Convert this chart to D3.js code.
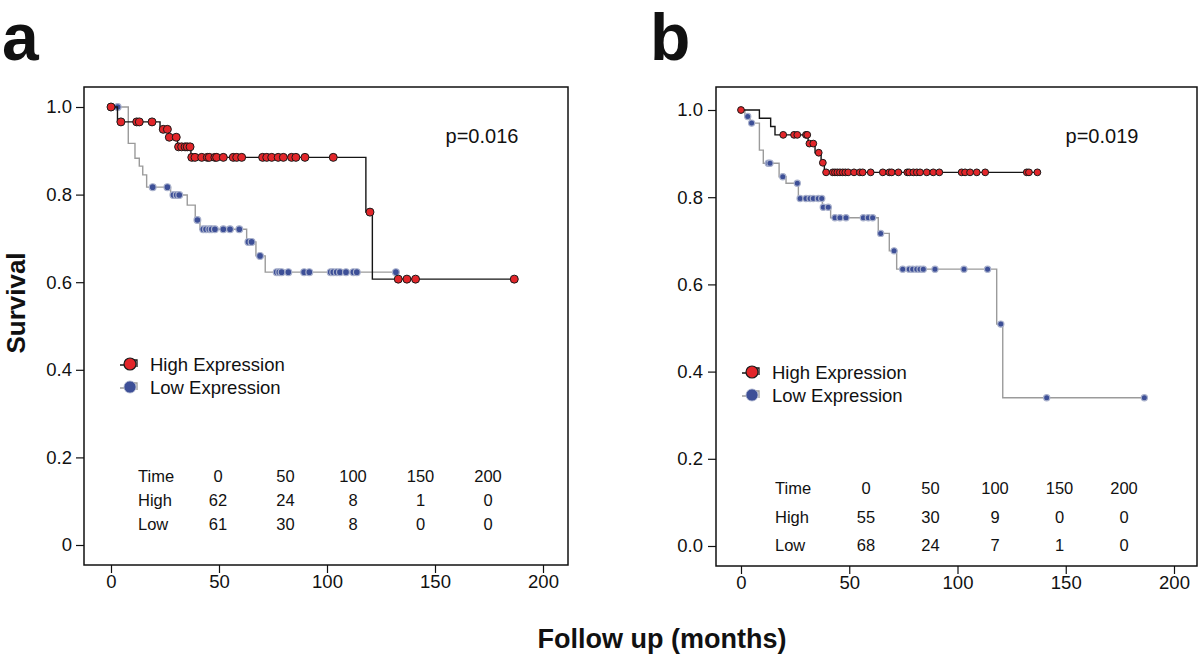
<!DOCTYPE html>
<html><head><meta charset="utf-8">
<script src="https://cdn.jsdelivr.net/npm/d3@7"></script>
<style>body{margin:0;background:#fff}svg{display:block}text{font-family:"Liberation Sans",Arial,Helvetica,sans-serif;fill:#111}</style>
</head><body><svg id="c" width="1200" height="656"></svg>
<script>
// ---------- data ----------
const xTicks = [0, 50, 100, 150, 200];
const yTicksA = [0, 0.2, 0.4, 0.6, 0.8, 1.0];
const yTickLabelsA = ["0", "0.2", "0.4", "0.6", "0.8", "1.0"];
const yTickLabelsB = ["0.0", "0.2", "0.4", "0.6", "0.8", "1.0"];
const seriesNames = ["High Expression", "Low Expression"];
const tableTimes = ["0", "50", "100", "150", "200"];

// Panel a
const highStepTimesA = [3, 22.7, 26.5, 30.8, 37, 118, 121];
const highStepSurvA  = [0.966, 0.949, 0.931, 0.909, 0.885, 0.760, 0.607];
const highCensorA = [0, 4.6, 11.9, 13.1, 19, 24.2, 26.1, 27, 30.2, 31.3, 32.7, 34.3, 35.3, 36.6,
  37.4, 38.9, 42, 44.6, 45.5, 48.1, 48.9, 52, 56.6, 58.2, 60.5, 70.2, 72.1, 74.4, 77.4, 79.8,
  83.6, 85.6, 89.8, 102.9, 119.9, 133, 137, 141, 186.7];
const lowStepTimesA = [8, 11.1, 13.1, 14.7, 16.5, 27.6, 35.3, 39, 41.2, 62.8, 67.1, 71.4];
const lowStepSurvA  = [0.917, 0.883, 0.865, 0.845, 0.817, 0.799, 0.776, 0.742, 0.721, 0.692, 0.660, 0.623];
const lowCensorA = [3.1, 19.3, 26.1, 28.9, 30.4, 31.6, 40, 42.7, 44, 45.5, 46.6, 48.1, 52, 55.1, 59.4,
  63.6, 65.1, 69, 76.7, 77.9, 79, 82.1, 89.4, 91.8, 101.7, 102.9, 104.5, 106, 108.8, 112.2, 113.8, 131.9];
const highAtRiskA = [62, 24, 8, 1, 0];
const lowAtRiskA  = [61, 30, 8, 0, 0];
const pValueA = "p=0.016";

// Panel b
const highStepTimesB = [8.5, 13.7, 15.7, 31, 34.2, 37, 38.5];
const highStepSurvB  = [0.981, 0.962, 0.943, 0.923, 0.902, 0.879, 0.857];
const highCensorB = [0, 19.5, 24.5, 26, 30, 30.6, 31.6, 33.4, 35.9, 37.8, 39.3, 42.4, 43.4, 44.5, 45.7,
  47, 48.2, 49.5, 52.2, 54.9, 56.2, 59.9, 65.5, 68.5, 69.6, 72.7, 76.8, 77.7, 79.6, 81.2, 82.7,
  85.8, 88.8, 91.6, 101.9, 103.5, 105.8, 108.9, 112.8, 132, 133, 136.9];
const lowStepTimesB = [1.8, 4.2, 8.5, 10.3, 17.6, 20.8, 26.5, 37.6, 41.4, 63.4, 68.5, 71.9, 118.1, 120.9];
const lowStepSurvB  = [0.985, 0.970, 0.908, 0.878, 0.847, 0.832, 0.797, 0.777, 0.753, 0.717, 0.677, 0.635, 0.509, 0.340];
const lowCensorB = [3.1, 4.9, 12.6, 13.4, 19.3, 26, 27.3, 30, 31.9, 33.4, 35.7, 37.3, 38, 40.3, 43.4, 45.7,
  48.5, 56.5, 58.8, 60.8, 64.5, 70.7, 74.7, 77.7, 79.3, 81.2, 82.7, 84.2, 89.6, 103, 113.9, 120, 141.2, 186.3];
const highAtRiskB = [55, 30, 9, 0, 0];
const lowAtRiskB  = [68, 24, 7, 1, 0];
const pValueB = "p=0.019";

// ---------- drawing ----------
const svg = d3.select("#c");
const RED = "#e2262a", BLUE = "#3d4f97";

function survFn(times, surv) {
  return t => { let s = 1; for (let i = 0; i < times.length; i++) if (times[i] <= t) s = surv[i]; return s; };
}

function panel(cfg) {
  const x = d3.scaleLinear().domain([0, 200]).range(cfg.xr);
  const y = d3.scaleLinear().domain([0, 1]).range(cfg.yr);
  const g = svg.append("g");

  // axes
  const ya = g.append("g").attr("transform", `translate(${cfg.box[0]},0)`)
    .call(d3.axisLeft(y).tickValues(yTicksA).tickFormat((d, i) => cfg.yLabels[i]).tickSize(8).tickPadding(cfg.ypad));
  ya.select(".domain").remove();
  ya.selectAll("line").attr("stroke", "#111").attr("stroke-width", 1.2);
  ya.selectAll("text").attr("font-size", 18.5).attr("font-family", "Liberation Sans, Arial, sans-serif").attr("fill", "#111");
  const xa = g.append("g").attr("transform", `translate(0,${cfg.box[3]})`)
    .call(d3.axisBottom(x).tickValues(xTicks).tickSize(8).tickPadding(2));
  xa.select(".domain").remove();
  xa.selectAll("line").attr("stroke", "#111").attr("stroke-width", 1.2);
  xa.selectAll("text").attr("font-size", 18.5).attr("font-family", "Liberation Sans, Arial, sans-serif").attr("fill", "#111");

  // box
  g.append("rect").attr("x", cfg.box[0]).attr("y", cfg.box[1])
    .attr("width", cfg.box[2] - cfg.box[0]).attr("height", cfg.box[3] - cfg.box[1])
    .attr("fill", "none").attr("stroke", "#111").attr("stroke-width", 1.5);

  const line = d3.line().x(d => x(d[0])).y(d => y(d[1])).curve(d3.curveStepAfter);
  function curve(times, surv, censor, color, lineColor, stroke, r, sw) {
    const f = survFn(times, surv);
    const end = d3.max(censor.concat(times));
    const pts = [[0, 1]].concat(times.map((t, i) => [t, surv[i]])).concat([[end, f(end)]]);
    g.append("path").attr("d", line(pts)).attr("fill", "none").attr("stroke", lineColor).attr("stroke-width", 1.4);
    g.selectAll(null).data(censor).join("circle")
      .attr("cx", d => x(d)).attr("cy", d => y(f(d))).attr("r", r)
      .attr("fill", color).attr("stroke", stroke).attr("stroke-width", sw);
  }
  curve(cfg.lowT, cfg.lowS, cfg.lowC, BLUE, "#9b9b9b", "#a9b1cc", cfg.rb, 1.2);
  curve(cfg.highT, cfg.highS, cfg.highC, RED, "#151515", "#1a1a1a", cfg.rr, 1);

  // p value
  g.append("text").attr("x", cfg.p[0]).attr("y", cfg.p[1]).attr("text-anchor", "middle")
    .attr("font-size", 20).text(cfg.pText);

  // legend
  const leg = [[RED, "#151515", "#1a1a1a"], [BLUE, "#9b9b9b", "#a9b1cc"]];
  seriesNames.forEach((name, i) => {
    const lx = cfg.leg[0], ly = cfg.leg[1] + i * cfg.leg[2];
    g.append("path").attr("d", `M${lx - 10},${ly + 1}H${lx}V${ly - 4}H${lx + 7}V${ly + 3}`)
      .attr("fill", "none").attr("stroke", leg[i][1]).attr("stroke-width", 1.3);
    g.append("circle").attr("cx", lx).attr("cy", ly).attr("r", 6)
      .attr("fill", leg[i][0]).attr("stroke", leg[i][2]).attr("stroke-width", i === 0 ? 1.2 : 0.8);
    g.append("text").attr("x", lx + 20).attr("y", ly + 6.5).attr("font-size", 18.5).text(name);
  });

  // risk table
  const tc = d3.scalePoint().domain(tableTimes).range(cfg.tab.cols);
  const rows = [["Time", tableTimes], ["High", cfg.highR], ["Low", cfg.lowR]];
  rows.forEach((r, i) => {
    const ty = cfg.tab.y + i * cfg.tab.dy;
    g.append("text").attr("x", cfg.tab.x).attr("y", ty).attr("font-size", 16.5).text(r[0]);
    g.selectAll(null).data(r[1]).join("text")
      .attr("x", (d, j) => tc(tableTimes[j])).attr("y", ty).attr("text-anchor", "middle")
      .attr("font-size", 16.5).text(d => d);
  });
}

panel({xr: [111, 543], yr: [545, 107], box: [84, 87, 568, 565], ypad: 4, yLabels: yTickLabelsA,
  highT: highStepTimesA, highS: highStepSurvA, highC: highCensorA,
  lowT: lowStepTimesA, lowS: lowStepSurvA, lowC: lowCensorA, rr: 4, rb: 3.4,
  p: [482, 143], pText: pValueA, leg: [130, 364, 23],
  tab: {x: 138, y: 482, dy: 24, cols: [218, 488]}, highR: highAtRiskA, lowR: lowAtRiskA});

panel({xr: [741, 1174], yr: [546, 110], box: [716, 87, 1197, 566], ypad: 5, yLabels: yTickLabelsB,
  highT: highStepTimesB, highS: highStepSurvB, highC: highCensorB,
  lowT: lowStepTimesB, lowS: lowStepSurvB, lowC: lowCensorB, rr: 3.4, rb: 3.1,
  p: [1102, 143], pText: pValueB, leg: [752, 372, 23],
  tab: {x: 775, y: 494, dy: 28.5, cols: [866, 1124]}, highR: highAtRiskB, lowR: lowAtRiskB});

// titles
svg.append("text").attr("transform", "translate(25,303) rotate(-90)").attr("text-anchor", "middle")
  .attr("font-size", 26).attr("font-weight", "bold").text("Survival");
svg.append("text").attr("x", 662).attr("y", 648).attr("text-anchor", "middle")
  .attr("font-size", 27).attr("font-weight", "bold").text("Follow up (months)");
svg.append("text").attr("x", 2).attr("y", 60).attr("font-size", 66).attr("font-weight", "bold").text("a");
svg.append("text").attr("x", 650).attr("y", 60).attr("font-size", 66).attr("font-weight", "bold").text("b");
</script></body></html>
